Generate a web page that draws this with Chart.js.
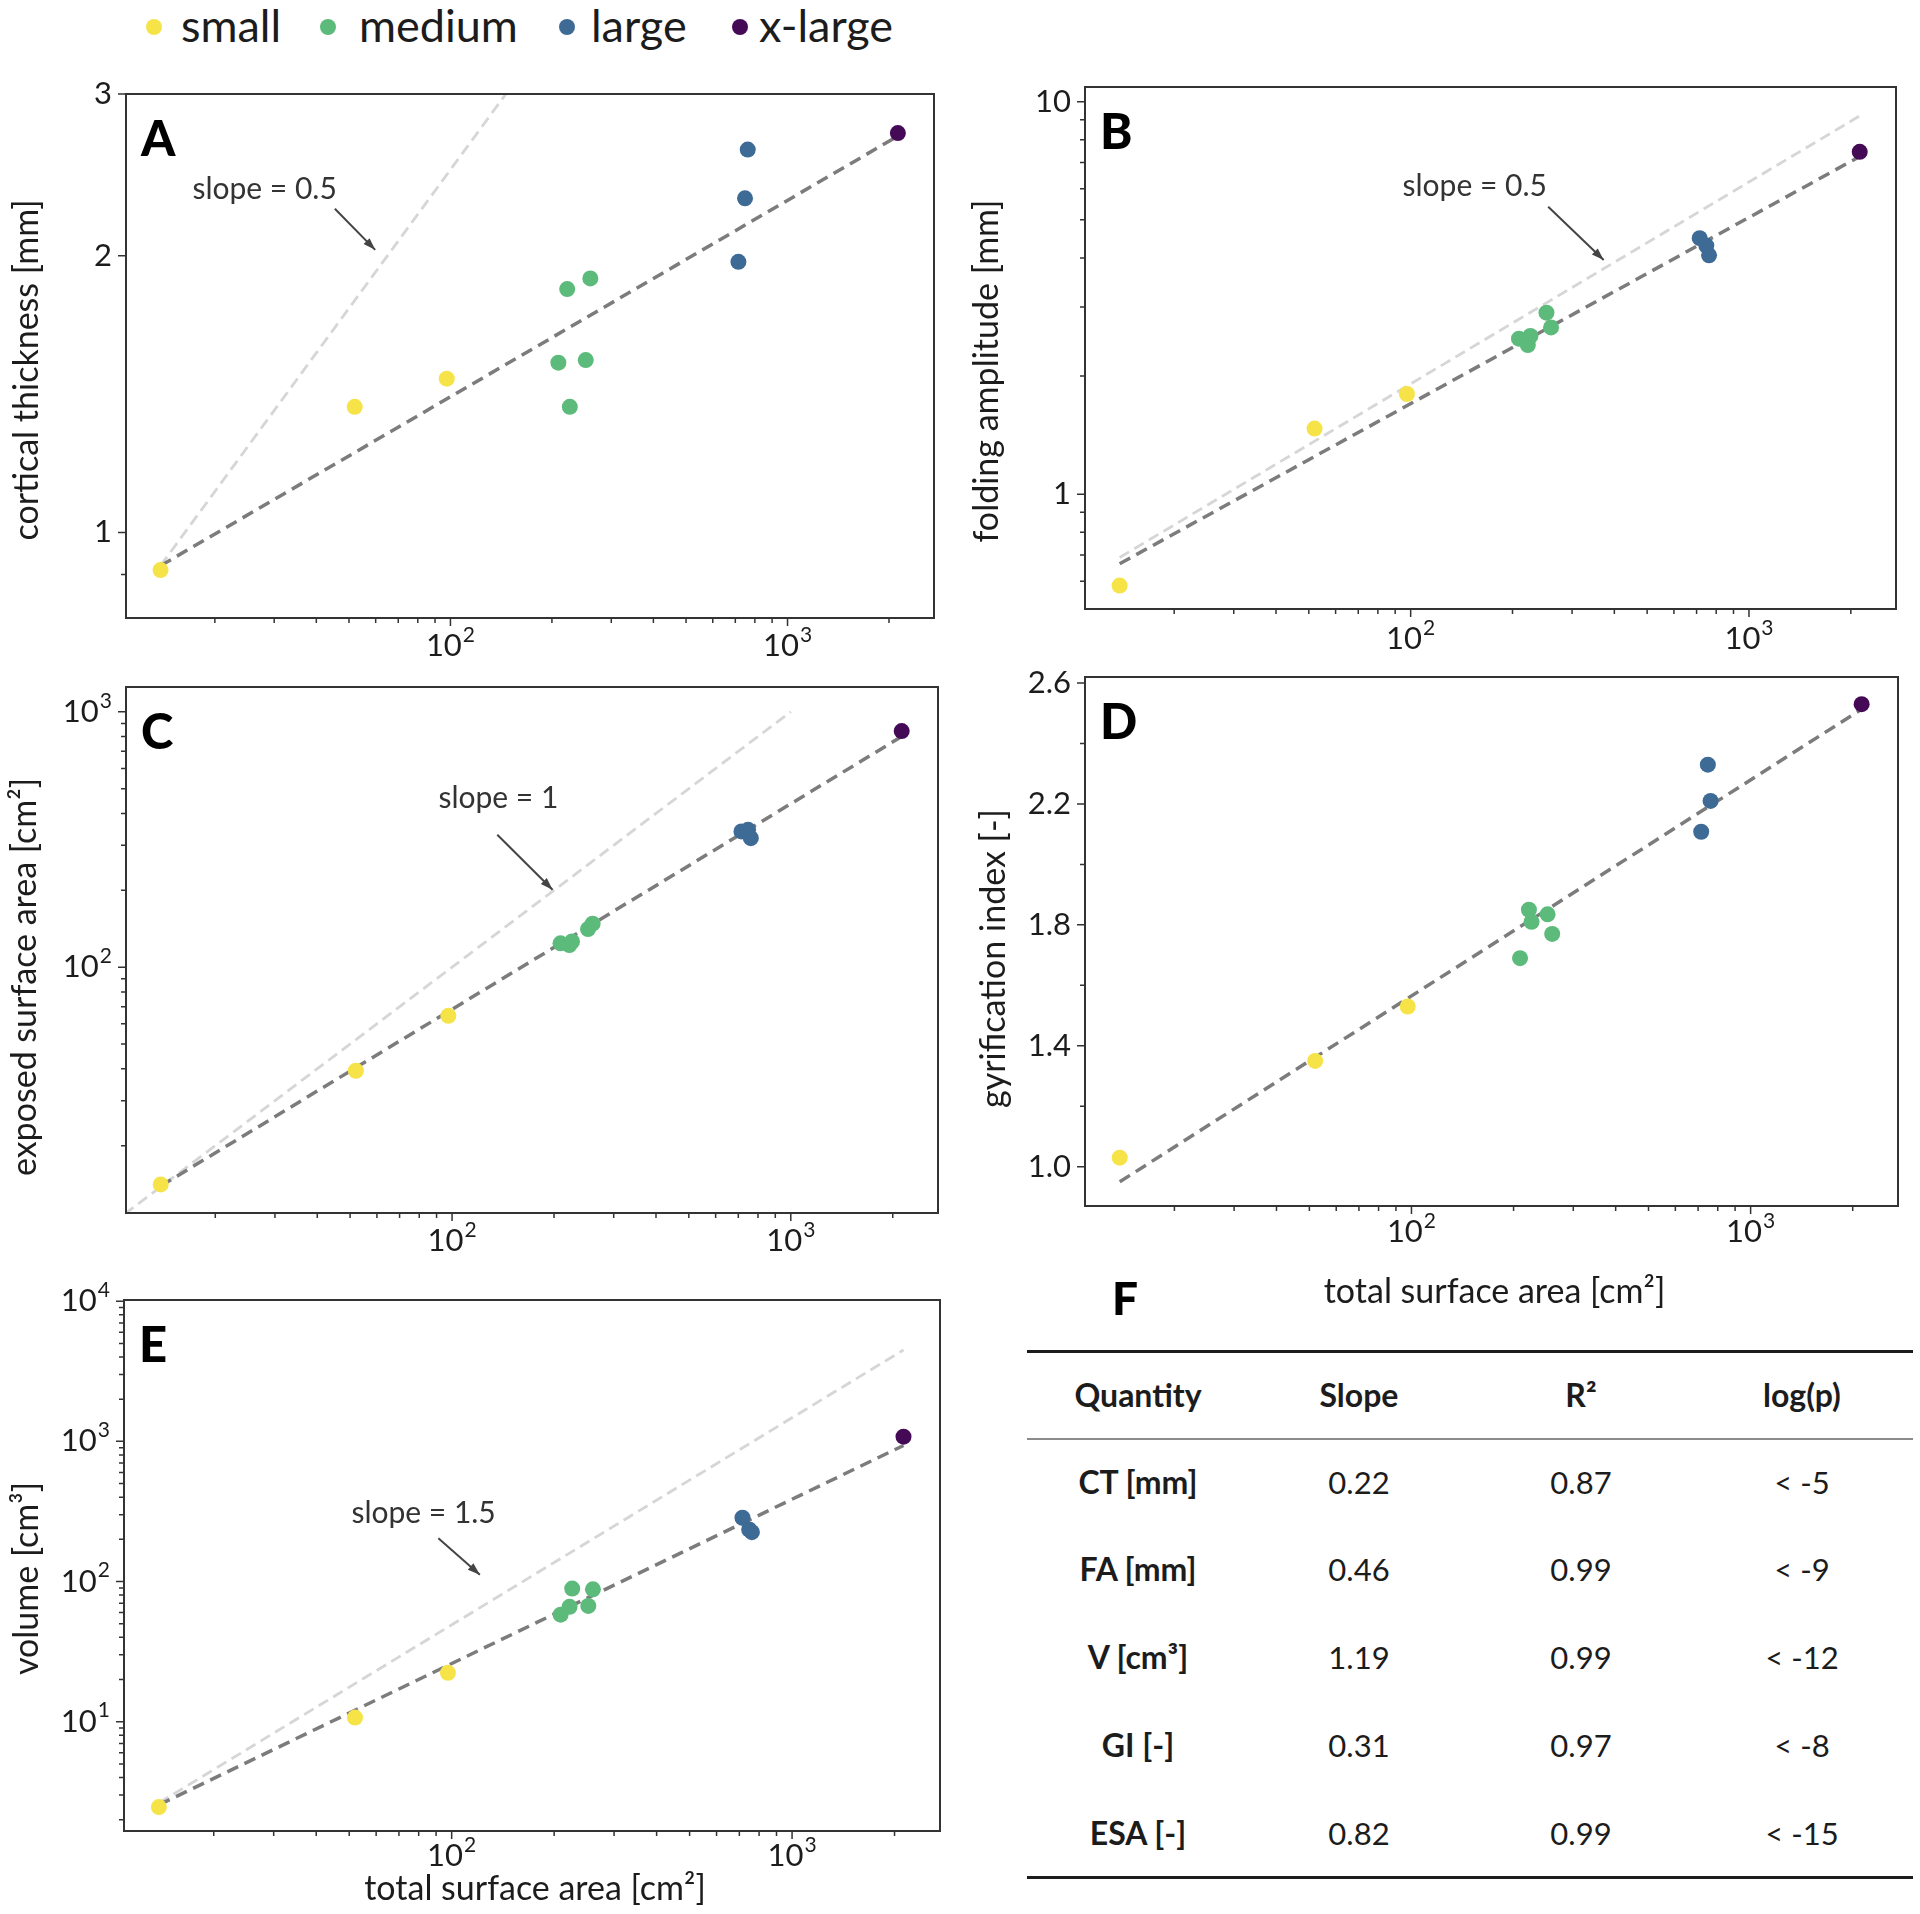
<!DOCTYPE html>
<html lang="en">
<head>
  <meta charset="UTF-8" />
  <title>Scaling of cortical folding with total surface area</title>
  <script src="https://cdn.jsdelivr.net/npm/chart.js"></script>
  <style>
    html, body {
      margin: 0;
      padding: 0;
      background-color: white;
    }
    body {
      position: relative;
      width: 1920px;
      height: 1914px;
      overflow: hidden;
      font-family: Lato, "Open Sans", sans-serif;
      color: #1c1c1c;
    }
    canvas { position: absolute; }
    .dot {
      position: absolute;
      width: 16px;
      height: 16px;
      border-radius: 50%;
    }
    .legend-text {
      position: absolute;
      top: -2px;
      font-size: 45px;
      line-height: 54px;
      white-space: nowrap;
    }
    .cell {
      position: absolute;
      transform: translateX(-50%);
      font-size: 31px;
      line-height: 40px;
      white-space: nowrap;
    }
    .cell.bold { font-weight: 700; font-size: 32px; }
    .rule { position: absolute; left: 1027px; width: 886px; }
  </style>
</head>
<body>
  <div id="legend"></div>

  <canvas id="panelA" width="960" height="620" style="left:0;top:60px"></canvas>
  <canvas id="panelB" width="960" height="620" style="left:960px;top:50px"></canvas>
  <canvas id="panelC" width="960" height="620" style="left:0;top:650px"></canvas>
  <canvas id="panelD" width="960" height="680" style="left:960px;top:640px"></canvas>
  <canvas id="panelE" width="960" height="654" style="left:0;top:1260px"></canvas>

  <div id="table"></div>

  <script>
    // total surface area [cm2], same animals in every panel
    const smallArea  = [13.8, 52, 97.5];
    const mediumArea = [209, 222, 226, 252, 260];
    const largeArea  = [715, 748, 762];
    const xlargeArea = [2125];

    // A: cortical thickness [mm]
    const ctSmall  = [0.91, 1.37, 1.47];
    const ctMedium = [1.53, 1.84, 1.37, 1.54, 1.89];
    const ctLarge  = [1.97, 2.31, 2.61];
    const ctXlarge = [2.72];
    const ctFitX = [13.8, 2125], ctFitY = [0.92, 2.70];
    const ctRefX = [13.8, 146],  ctRefY = [0.92, 3.0];

    // B: folding amplitude [mm]
    const faSmall  = [0.585, 1.47, 1.80];
    const faMedium = [2.49, 2.40, 2.53, 2.90, 2.66];
    const faLarge  = [4.49, 4.30, 4.06];
    const faXlarge = [7.45];
    const faFitX = [13.8, 2125], faFitY = [0.665, 7.25];
    const faRefX = [13.8, 2125], faRefY = [0.69, 9.2];

    // C: exposed surface area [cm2]
    const esaSmall  = [14.1, 39.3, 64.5];
    const esaMedium = [124, 122, 126, 141, 148];
    const esaLarge  = [340, 345, 320];
    const esaXlarge = [840];
    const esaFitX = [13.8, 2125], esaFitY = [13.9, 800];
    const esaRefX = [10.8, 1000], esaRefY = [10.8, 1000];

    // D: gyrification index [-]
    const giSmall  = [1.03, 1.35, 1.53];
    const giMedium = [1.69, 1.85, 1.81, 1.835, 1.77];
    const giLarge  = [2.108, 2.33, 2.21];
    const giXlarge = [2.53];
    const giFitX = [13.8, 2100], giFitY = [0.95, 2.51];

    // E: volume [cm3]
    const volSmall  = [2.46, 10.7, 22.3];
    const volMedium = [58, 66, 89, 67, 88];
    const volLarge  = [285, 235, 225];
    const volXlarge = [1080];
    const volFitX = [13.8, 2125], volFitY = [2.55, 935];
    const volRefX = [13.8, 2125], volRefY = [2.63, 4490];

    // ticks
    const xTicks = [20, 30, 40, 50, 60, 70, 80, 90, 100, 200, 300, 400, 500, 600, 700, 800, 900, 1000, 2000];
    const xLabeled = [100, 1000], xLabels = ['10²', '10³'];
    const aTicks = [0.9, 1, 2, 3];
    const aLabeled = [1, 2, 3], aLabels = ['1', '2', '3'];
    const bTicks = [0.6, 0.7, 0.8, 0.9, 1, 2, 3, 4, 5, 6, 7, 8, 9, 10];
    const bLabeled = [1, 10], bLabels = ['1', '10'];
    const cTicks = [20, 30, 40, 50, 60, 70, 80, 90, 100, 200, 300, 400, 500, 600, 700, 800, 900, 1000];
    const cLabeled = [100, 1000], cLabels = ['10²', '10³'];
    const dTicks = [1.0, 1.2, 1.4, 1.6, 1.8, 2.0, 2.2, 2.4, 2.6];
    const dLabeled = [1.0, 1.4, 1.8, 2.2, 2.6], dLabels = ['1.0', '1.4', '1.8', '2.2', '2.6'];
    const eTicks = [2, 3, 4, 5, 6, 7, 8, 9, 10, 20, 30, 40, 50, 60, 70, 80, 90, 100,
                    200, 300, 400, 500, 600, 700, 800, 900, 1000, 2000, 3000, 4000, 5000, 6000, 7000, 8000, 9000, 10000];
    const eLabeled = [10, 100, 1000, 10000], eLabels = ['10¹', '10²', '10³', '10⁴'];

    // F table
    const tableHeader = ['Quantity', 'Slope', 'R²', 'log(p)'];
    const quantities = ['CT [mm]', 'FA [mm]', 'V [cm³]', 'GI [-]', 'ESA [-]'];
    const slopes = ['0.22', '0.46', '1.19', '0.31', '0.82'];
    const rSquared = ['0.87', '0.99', '0.99', '0.97', '0.99'];
    const logP = ['< -5', '< -9', '< -12', '< -8', '< -15'];

    const groupNames = ['small', 'medium', 'large', 'x-large'];
    const groupColors = ['#f6e348', '#5cba7a', '#3e6a96', '#440a55'];
    const groupAreas = [smallArea, mediumArea, largeArea, xlargeArea];

    const FIT_COLOR = '#7c7c7c';
    const REF_COLOR = '#d6d6d6';
    const INK = '#1c1c1c';
    const SUP = { '¹': '1', '²': '2', '³': '3', '⁴': '4' };
    Chart.defaults.font.family = 'Lato, "Open Sans", sans-serif';

    function pts(xs, ys) {
      return xs.map((x, i) => ({ x: x, y: ys[i] }));
    }

    function tickList(values) {
      return values.map(v => ({ value: v }));
    }

    function labelFor(labeled, labels) {
      return value => {
        const i = labeled.findIndex(v => Math.abs(v - value) < 1e-9);
        return i >= 0 ? labels[i] : '';
      };
    }

    // tick label with a real raised exponent, like the mathtext ones
    function drawTickLabel(ctx, text, x, y, align) {
      let base = text, sup = '';
      const last = text.slice(-1);
      if (SUP[last]) {
        base = text.slice(0, -1);
        sup = SUP[last];
      }
      ctx.font = '31px Lato';
      const wb = ctx.measureText(base).width;
      ctx.font = '21px Lato';
      const ws = sup ? ctx.measureText(sup).width + 1 : 0;
      const total = wb + ws;
      const left = align === 'center' ? x - total / 2 : x - total;
      ctx.textAlign = 'left';
      ctx.textBaseline = 'middle';
      ctx.font = '31px Lato';
      ctx.fillText(base, left, y);
      if (sup) {
        ctx.font = '21px Lato';
        ctx.fillText(sup, left + wb + 1, y - 11);
      }
    }

    // frame, ticks, panel letter, axis titles and the slope note
    function decorPlugin(cfg) {
      const xLabel = labelFor(xLabeled, xLabels);
      const yLabel = labelFor(cfg.yLabeled, cfg.yLabels);
      return {
        id: 'decor',
        afterDatasetsDraw(chart) {
          const ctx = chart.ctx;
          const a = chart.chartArea;
          const x = chart.scales.x, y = chart.scales.y;
          ctx.save();

          if (cfg.note) {
            const n = cfg.note;
            ctx.fillStyle = '#333';
            ctx.font = '30px Lato';
            ctx.textAlign = 'center';
            ctx.textBaseline = 'middle';
            ctx.fillText(n.text, x.getPixelForValue(n.at[0]), y.getPixelForValue(n.at[1]));
            const x0 = x.getPixelForValue(n.from[0]), y0 = y.getPixelForValue(n.from[1]);
            const x1 = x.getPixelForValue(n.to[0]), y1 = y.getPixelForValue(n.to[1]);
            ctx.strokeStyle = '#444';
            ctx.lineWidth = 2;
            ctx.beginPath();
            ctx.moveTo(x0, y0);
            ctx.lineTo(x1, y1);
            ctx.stroke();
            const ang = Math.atan2(y1 - y0, x1 - x0);
            ctx.beginPath();
            ctx.moveTo(x1, y1);
            ctx.lineTo(x1 - 13 * Math.cos(ang - 0.33), y1 - 13 * Math.sin(ang - 0.33));
            ctx.lineTo(x1 - 13 * Math.cos(ang + 0.33), y1 - 13 * Math.sin(ang + 0.33));
            ctx.closePath();
            ctx.fillStyle = '#444';
            ctx.fill();
          }

          ctx.strokeStyle = '#333';
          ctx.lineWidth = 2;
          ctx.strokeRect(a.left, a.top, a.right - a.left, a.bottom - a.top);

          ctx.lineWidth = 1.5;
          ctx.fillStyle = INK;
          ctx.beginPath();
          x.ticks.forEach(t => {
            const px = x.getPixelForValue(t.value);
            if (px < a.left - 1 || px > a.right + 1) return;
            const lab = xLabel(t.value);
            ctx.moveTo(px, a.bottom);
            ctx.lineTo(px, a.bottom + (lab ? 8 : 5));
            if (lab) drawTickLabel(ctx, lab, px, a.bottom + cfg.xLabelDy, 'center');
          });
          y.ticks.forEach(t => {
            const py = y.getPixelForValue(t.value);
            if (py < a.top - 1 || py > a.bottom + 1) return;
            const lab = yLabel(t.value);
            ctx.moveTo(a.left, py);
            ctx.lineTo(a.left - (lab ? 8 : 5), py);
            if (lab) drawTickLabel(ctx, lab, a.left - 14, py, 'right');
          });
          ctx.stroke();

          ctx.fillStyle = '#000';
          ctx.font = '900 49px Lato';
          ctx.textAlign = 'left';
          ctx.textBaseline = 'alphabetic';
          ctx.fillText(cfg.letter, a.left + 15, a.top + 62);

          ctx.fillStyle = INK;
          ctx.font = '34px Lato';
          ctx.textAlign = 'center';
          ctx.textBaseline = 'middle';
          ctx.save();
          ctx.translate(a.left + cfg.yTitleDx, (a.top + a.bottom) / 2 + cfg.yTitleDy);
          ctx.rotate(-Math.PI / 2);
          ctx.fillText(cfg.yTitle, 0, 0);
          ctx.restore();
          if (cfg.xTitle) {
            ctx.fillText(cfg.xTitle, (a.left + a.right) / 2 + 3, a.bottom + cfg.xTitleDy);
          }
          ctx.restore();
        }
      };
    }

    function makePanel(id, cfg) {
      const datasets = groupNames.map((name, g) => ({
        label: name,
        data: pts(groupAreas[g], cfg.groups[g]),
        backgroundColor: groupColors[g],
        borderWidth: 0,
        pointRadius: 8,
        order: 0
      }));
      datasets.push({
        label: 'fit',
        data: pts(cfg.fitX, cfg.fitY),
        showLine: true,
        borderColor: FIT_COLOR,
        borderWidth: 3.5,
        borderDash: [12, 7],
        pointRadius: 0,
        order: 1
      });
      if (cfg.refX) {
        datasets.push({
          label: 'reference',
          data: pts(cfg.refX, cfg.refY),
          showLine: true,
          borderColor: REF_COLOR,
          borderWidth: 2.8,
          borderDash: [11, 6],
          pointRadius: 0,
          order: 2
        });
      }

      return new Chart(document.getElementById(id), {
        type: 'scatter',
        data: { datasets: datasets },
        options: {
          responsive: false,
          animation: false,
          events: [],
          layout: { padding: { top: cfg.padTop, right: cfg.padRight, left: 0, bottom: 0 } },
          plugins: { legend: { display: false }, tooltip: { enabled: false } },
          scales: {
            x: {
              type: 'logarithmic',
              min: 10.9,
              max: 2720,
              grid: { display: false, drawTicks: false },
              border: { display: false },
              ticks: { display: false },
              afterBuildTicks: ax => { ax.ticks = tickList(xTicks); },
              afterFit: ax => { ax.height = cfg.xHeight; }
            },
            y: {
              type: cfg.yLog ? 'logarithmic' : 'linear',
              min: cfg.yMin,
              max: cfg.yMax,
              grid: { display: false, drawTicks: false },
              border: { display: false },
              ticks: { display: false },
              afterBuildTicks: ax => { ax.ticks = tickList(cfg.yTicks); },
              afterFit: ax => { ax.width = cfg.yWidth; }
            }
          }
        },
        plugins: [decorPlugin(cfg)]
      });
    }

    makePanel('panelA', {
      letter: 'A', yTitle: 'cortical thickness [mm]', yTitleDx: -99, yTitleDy: 14,
      groups: [ctSmall, ctMedium, ctLarge, ctXlarge],
      fitX: ctFitX, fitY: ctFitY, refX: ctRefX, refY: ctRefY,
      yLog: true, yMin: 0.807, yMax: 3.0,
      yTicks: aTicks, yLabeled: aLabeled, yLabels: aLabels,
      padTop: 34, padRight: 26, yWidth: 126, xHeight: 62, xLabelDy: 28,
      note: { text: 'slope = 0.5', at: [28.1, 2.36], from: [45.4, 2.25], to: [59.8, 2.03] }
    });

    makePanel('panelB', {
      letter: 'B', yTitle: 'folding amplitude [mm]', yTitleDx: -98, yTitleDy: 23,
      groups: [faSmall, faMedium, faLarge, faXlarge],
      fitX: faFitX, fitY: faFitY, refX: faRefX, refY: faRefY,
      yLog: true, yMin: 0.51, yMax: 10.9,
      yTicks: bTicks, yLabeled: bLabeled, yLabels: bLabels,
      padTop: 37, padRight: 24, yWidth: 125, xHeight: 61, xLabelDy: 30,
      note: { text: 'slope = 0.5', at: [154.6, 6.09], from: [255, 5.40], to: [372, 3.95] }
    });

    makePanel('panelC', {
      letter: 'C', yTitle: 'exposed surface area [cm²]', yTitleDx: -101, yTitleDy: 27,
      groups: [esaSmall, esaMedium, esaLarge, esaXlarge],
      fitX: esaFitX, fitY: esaFitY, refX: esaRefX, refY: esaRefY,
      yLog: true, yMin: 10.9, yMax: 1250,
      yTicks: cTicks, yLabeled: cLabeled, yLabels: cLabels,
      padTop: 37, padRight: 22, yWidth: 126, xHeight: 57, xLabelDy: 28,
      note: { text: 'slope = 1', at: [137, 460], from: [136, 330], to: [198, 201] }
    });

    makePanel('panelD', {
      letter: 'D', yTitle: 'gyrification index [-]', yTitleDx: -91, yTitleDy: 17,
      xTitle: 'total surface area [cm²]', xTitleDy: 86,
      groups: [giSmall, giMedium, giLarge, giXlarge],
      fitX: giFitX, fitY: giFitY,
      yLog: false, yMin: 0.87, yMax: 2.62,
      yTicks: dTicks, yLabeled: dLabeled, yLabels: dLabels,
      padTop: 37, padRight: 22, yWidth: 125, xHeight: 114, xLabelDy: 26
    });

    makePanel('panelE', {
      letter: 'E', yTitle: 'volume [cm³]', yTitleDx: -97, yTitleDy: 13,
      xTitle: 'total surface area [cm²]', xTitleDy: 58,
      groups: [volSmall, volMedium, volLarge, volXlarge],
      fitX: volFitX, fitY: volFitY, refX: volRefX, refY: volRefY,
      yLog: true, yMin: 1.66, yMax: 10200,
      yTicks: eTicks, yLabeled: eLabeled, yLabels: eLabels,
      padTop: 40, padRight: 20, yWidth: 124, xHeight: 83, xLabelDy: 25,
      note: { text: 'slope = 1.5', at: [82.7, 305], from: [91.4, 204], to: [121, 112] }
    });

    // legend across the top
    const legendDotX = [154, 328, 567, 740];
    const legendTextX = [181, 359, 591, 759];
    const legend = document.getElementById('legend');
    groupNames.forEach((name, g) => {
      const dot = document.createElement('div');
      dot.className = 'dot';
      dot.style.left = (legendDotX[g] - 8) + 'px';
      dot.style.top = '19px';
      dot.style.background = groupColors[g];
      legend.appendChild(dot);
      const txt = document.createElement('div');
      txt.className = 'legend-text';
      txt.style.left = legendTextX[g] + 'px';
      txt.textContent = name;
      legend.appendChild(txt);
    });

    // panel F: regression table
    const table = document.getElementById('table');
    const colX = [1138, 1359, 1581, 1802];
    const rowY = [1482, 1569, 1657, 1745, 1833];

    function addCell(text, cx, cy, bold) {
      const el = document.createElement('div');
      el.className = bold ? 'cell bold' : 'cell';
      el.style.left = cx + 'px';
      el.style.top = (cy - 20) + 'px';
      el.textContent = text;
      table.appendChild(el);
    }
    function addRule(y, h, color) {
      const el = document.createElement('div');
      el.className = 'rule';
      el.style.top = (y - h / 2) + 'px';
      el.style.height = h + 'px';
      el.style.background = color;
      table.appendChild(el);
    }

    const letterF = document.createElement('div');
    letterF.className = 'cell';
    letterF.style.cssText = 'left:1125px;top:1270px;font-size:46px;line-height:56px;font-weight:900;color:#000';
    letterF.textContent = 'F';
    table.appendChild(letterF);

    addRule(1351, 3, '#1c1c1c');
    addRule(1439, 2, '#8c8c8c');
    addRule(1877, 3, '#1c1c1c');
    tableHeader.forEach((h, c) => addCell(h, colX[c], 1395, true));
    quantities.forEach((q, r) => {
      addCell(q, colX[0], rowY[r], true);
      addCell(slopes[r], colX[1], rowY[r], false);
      addCell(rSquared[r], colX[2], rowY[r], false);
      addCell(logP[r], colX[3], rowY[r], false);
    });
  </script>
</body>
</html>
